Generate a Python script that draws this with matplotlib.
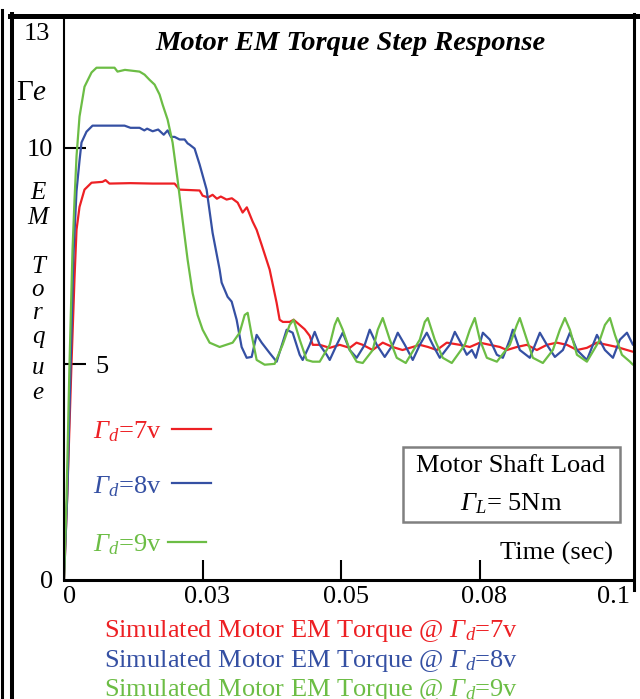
import matplotlib
matplotlib.use("Agg")
import matplotlib.pyplot as plt
import matplotlib.transforms as mtransforms
from matplotlib.lines import Line2D
from matplotlib.patches import Rectangle

plt.rcParams['font.family'] = ['Liberation Serif', 'DejaVu Serif']
plt.rcParams['mathtext.fontset'] = 'custom'
plt.rcParams['mathtext.rm'] = 'Liberation Serif'
plt.rcParams['mathtext.it'] = 'Liberation Serif:italic'
plt.rcParams['mathtext.bf'] = 'Liberation Serif:bold'
# italic capital Gamma goes through \mathsf (mathtext forces \mathit Greek capitals upright)
plt.rcParams['mathtext.sf'] = 'Liberation Serif:italic'

# time in ms, EM torque in Nm
t_7v = [0, 0.6, 1.35, 1.9, 2.26, 2.8, 3.7, 4.97, 6.95, 7.5, 8.2, 12, 16, 19.96,
        20.86, 24.48, 25.02, 26.0, 26.82, 27.6, 28.3, 29.35, 30.3, 31.34, 32.24,
        33.0, 34.05, 34.77, 35.68, 37.12, 38.38, 38.92, 39.5, 40.73, 41.45, 42.54,
        43.44, 44.34, 44.9, 46.15, 47.96, 49.76, 51.57, 52.8, 53.92, 55.7, 57.53,
        59.3, 61.1, 62.95, 64.22, 65.7, 67.29, 69.09, 71.44, 73.25, 75.05, 76.86,
        78.67, 79.93, 81.74, 83.54, 85.35, 87.16, 88.96, 90.77, 92.58, 94.38,
        96.19, 97.99, 99.80, 101.61, 102.69]
torque_7v = [0, 2.0, 5.0, 7.0, 8.1, 8.63, 9.03, 9.19, 9.21, 9.25, 9.17, 9.18, 9.17, 9.17,
             9.03, 9.01, 8.89, 8.85, 8.91, 8.82, 8.87, 8.80, 8.83, 8.73, 8.50,
             8.62, 8.29, 8.10, 7.75, 7.18, 6.41, 6.02, 5.97, 5.97, 6.02, 5.90,
             5.80, 5.65, 5.44, 5.44, 5.37, 5.44, 5.37, 5.49, 5.44, 5.32, 5.49,
             5.39, 5.32, 5.39, 5.44, 5.39, 5.32, 5.49, 5.44, 5.39, 5.49, 5.44,
             5.39, 5.32, 5.39, 5.44, 5.32, 5.44, 5.49, 5.44, 5.32, 5.37,
             5.49, 5.44, 5.39, 5.32, 5.28]

t_8v = [0, 0.6, 1.2, 1.7, 2.26, 2.8, 3.16, 4.06, 5.15, 8.0, 10.93, 12.0, 13.64, 14.5,
        15.0, 16.0, 17.0, 18.0, 18.7, 19.3, 19.96, 20.86, 21.77, 22.31, 22.67, 23.57,
        24.48, 25.74, 26.82, 28.09, 28.45, 29.53, 30.26, 31.16, 32.06, 32.97, 33.87,
        34.77, 35.68, 37.12, 38.38, 39.46, 40.19, 41.27, 42.54, 43.08, 44.34, 45.25,
        46.15, 47.42, 47.96, 49.22, 50.31, 51.57, 52.83, 54.28, 55.18, 56.45, 57.89,
        59.34, 60.24, 61.51, 62.95, 64.22, 65.48, 66.56, 67.83, 69.63, 70.54, 71.80,
        72.70, 73.61, 74.33, 75.60, 76.86, 78.13, 79.21, 80.47, 81.01, 82.27, 84.08,
        85.89, 87.16, 88.60, 90.05, 91.31, 92.58, 94.38, 96.19, 97.63, 99.08, 100.34,
        101.61, 102.69]
torque_8v = [0, 2.0, 5.0, 7.5, 9.0, 9.7, 10.12, 10.37, 10.51, 10.51, 10.51, 10.46, 10.46, 10.40,
             10.44, 10.38, 10.42, 10.30, 10.40, 10.25, 10.25, 10.19, 10.19, 10.10, 10.07, 9.98,
             9.61, 9.03, 8.03, 7.18, 6.88, 6.55, 6.44, 6.02, 5.39, 5.14, 5.16,
             5.67, 5.49, 5.25, 5.05, 5.49, 5.79, 5.72, 5.21, 5.09, 5.44, 5.74,
             5.44, 5.21, 5.09, 5.44, 5.72, 5.32, 5.14, 5.44, 5.79, 5.44, 5.16,
             5.44, 5.72, 5.44, 5.09, 5.44, 5.72, 5.44, 5.14, 5.44, 5.74, 5.44,
             5.21, 5.32, 5.14, 5.72, 5.56, 5.21, 5.14, 5.56, 5.79, 5.32, 5.14,
             5.72, 5.44, 5.16, 5.32, 5.72, 5.32, 5.09, 5.67, 5.32, 5.14, 5.56,
             5.72, 5.44]

t_9v = [0, 0.45, 0.99, 1.54, 1.90, 2.26, 2.8, 3.7, 4.97, 5.87, 9.12, 9.66, 11.0, 13.64,
        14.54, 15.44, 16.35, 17.25, 17.79, 18.70, 19.60, 20.50, 21.40, 22.31, 23.21,
        24.11, 25.02, 26.28, 28.09, 30.44, 31.70, 32.61, 33.15, 33.87, 34.77, 36.22,
        38.02, 39.46, 40.73, 41.45, 42.54, 43.80, 44.89, 46.15, 47.96, 48.86, 49.40,
        50.31, 51.57, 52.83, 53.92, 55.73, 56.63, 57.53, 58.80, 60.06, 61.69, 64.22,
        65.12, 65.66, 66.92, 68.36, 69.99, 72.34, 73.25, 74.15, 75.05, 76.32, 78.13,
        80.47, 81.74, 82.27, 83.54, 84.63, 86.43, 88.24, 89.50, 90.41, 91.31, 92.58,
        94.38, 96.73, 97.63, 98.54, 99.44, 100.70, 102.15, 102.69]
torque_9v = [0, 1.85, 4.98, 7.64, 8.8, 9.8, 10.72, 11.41, 11.74, 11.85, 11.85, 11.76, 11.80, 11.76,
             11.69, 11.57, 11.46, 11.23, 11.0, 10.65, 10.12, 9.26, 8.33, 7.41, 6.64,
             6.13, 5.79, 5.49, 5.39, 5.49, 5.72, 6.13, 6.18, 5.67, 5.09, 4.98,
             5.00, 5.44, 5.90, 6.02, 5.56, 5.09, 5.05, 5.05, 5.44, 5.90, 6.06,
             5.79, 5.32, 5.05, 5.02, 5.32, 5.79, 6.06, 5.56, 5.14, 5.02, 5.56,
             5.97, 6.06, 5.56, 5.14, 5.02, 5.44, 5.79, 6.06, 5.56, 5.14, 5.05,
             5.44, 5.90, 6.06, 5.56, 5.14, 5.02, 5.32, 5.79, 6.06, 5.79, 5.21,
             5.05, 5.56, 5.90, 6.06, 5.67, 5.21, 5.05, 4.98]

colors = ['#ed2024', '#3550a3', '#6cbd45']
volts = ['7v', '8v', '9v']
x_ticks = [0, 0.025, 0.05, 0.075, 0.1]
x_tick_labels = ['0', '0.03', '0.05', '0.08', '0.1']
GAMMA = r'$\mathsf{\Gamma}$'

W, H = 640, 699


def fx(px):
    return px / W


def fy(py):
    return 1 - py / H


fig = plt.figure(figsize=(6.4, 6.99), dpi=100)
ax = fig.add_axes([fx(64), fy(580), (633 - 64) / W, (580 - 18) / H])

for t, v, c in zip([t_7v, t_8v, t_9v], [torque_7v, torque_8v, torque_9v], colors):
    ax.plot([ti / 1000 for ti in t], v, color=c, lw=1.6,
            solid_joinstyle='round', solid_capstyle='round')

ax.set_xlim(0, 0.1027)
ax.set_ylim(0, 13)

ax.spines['top'].set_visible(False)
ax.spines['right'].set_visible(False)
ax.spines['left'].set_linewidth(1.5)
ax.spines['bottom'].set_linewidth(2.2)

ax.set_xticks(x_ticks)
ax.set_xticklabels(x_tick_labels, fontsize=19)
ax.tick_params(axis='x', direction='in', length=14.4, width=1.5, pad=4)
for tk in (ax.xaxis.get_major_ticks()[0], ax.xaxis.get_major_ticks()[-1]):
    tk.tick1line.set_visible(False)
shifts = [6, 4, 5, 5, -5]
for lab, dx in zip(ax.get_xticklabels(), shifts):
    lab.set_transform(lab.get_transform() +
                      mtransforms.ScaledTranslation(dx / 100, 0, fig.dpi_scale_trans))

ax.set_yticks([0, 5, 10])
ax.set_yticklabels(['0', '', '10'], fontsize=19)
ax.tick_params(axis='y', direction='in', length=15.8, width=1.5, pad=8)
ax.yaxis.get_major_ticks()[0].tick1line.set_visible(False)

fig.text(fx(50), fy(40), '13', fontsize=19, ha='right', va='baseline')
fig.text(fx(95), fy(373), '5', fontsize=19, ha='left', va='baseline')

ax.text(0.503, 0.955, 'Motor EM Torque Step Response', transform=ax.transAxes,
        ha='center', va='center', fontsize=20.5, fontweight='bold', fontstyle='italic')

# y label
fig.text(fx(16), fy(100), r'$\Gamma e$', fontsize=21, ha='left', va='baseline')
for ch, py in zip('EMTorque', [193, 218, 267, 290, 313, 337, 368, 393]):
    fig.text(fx(38), fy(py), ch, fontsize=18, fontstyle='italic', ha='center', va='center')

# inline legend
for v, c, base, ly, lx0, lx1 in zip(volts, colors, [438, 493, 551], [429, 483, 542],
                                    [172, 172, 168], [211, 211, 206]):
    fig.text(fx(162), fy(base), GAMMA + r'$_{d}$=' + v, color=c, fontsize=19,
             ha='right', va='baseline')
    fig.add_artist(Line2D([fx(lx0), fx(lx1)], [fy(ly), fy(ly)], color=c, lw=1.6))

# load box
fig.add_artist(Rectangle((fx(403), fy(522)), (620 - 403) / W, (522 - 447) / H,
                         transform=fig.transFigure, facecolor='white',
                         edgecolor='#808080', lw=1.8))
fig.text(fx(511), fy(472), 'Motor Shaft Load', fontsize=19, ha='center', va='baseline')
fig.text(fx(511), fy(510), GAMMA + r'$_{L}$= 5Nm', fontsize=19, ha='center',
         va='baseline')
fig.text(fx(557), fy(560), 'Time (sec)', fontsize=19, ha='center', va='baseline')

# captions under the axis
for v, c, base in zip(volts, colors, [637, 667, 696]):
    fig.text(fx(311), fy(base), 'Simulated Motor EM Torque @ ' + GAMMA + r'$_{d}$=' + v,
             color=c, fontsize=19, ha='center', va='baseline')

# frame lines
fig.add_artist(Line2D([fx(10), fx(640)], [fy(16), fy(16)], color='black', lw=3.6))
fig.add_artist(Line2D([fx(633.5), fx(633.5)], [fy(14), fy(590)], color='black', lw=2.2))
fig.add_artist(Line2D([fx(12), fx(12)], [fy(14), fy(699)], color='black', lw=2.9))
fig.add_artist(Line2D([fx(1.5), fx(1.5)], [fy(10), fy(699)], color='black', lw=2.2))

fig.savefig('out.png', dpi=100)
